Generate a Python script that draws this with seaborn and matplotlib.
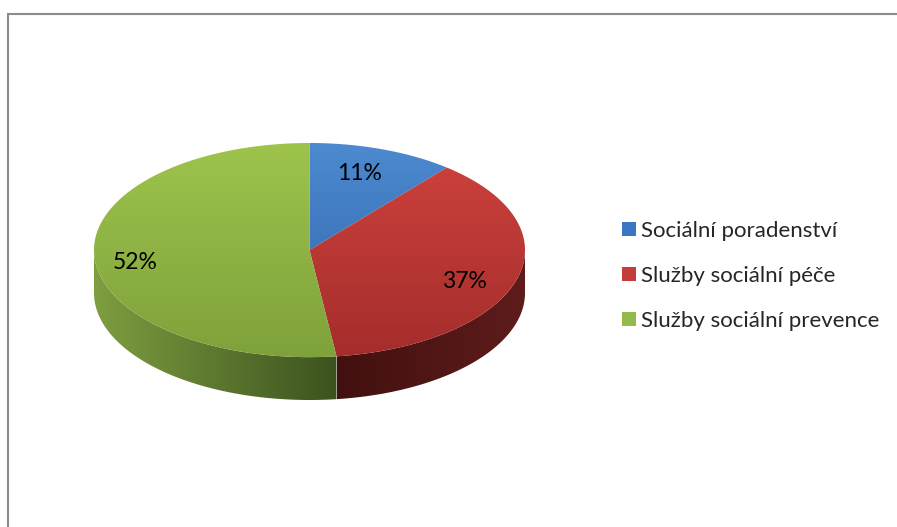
import numpy as np
import matplotlib
matplotlib.use("Agg")
import matplotlib.pyplot as plt
import seaborn as sns
from matplotlib.patches import Polygon, Patch
from matplotlib.lines import Line2D
from matplotlib.colors import LinearSegmentedColormap

# data
categories = ["Sociální poradenství", "Služby sociální péče", "Služby sociální prevence"]
shares = [11, 37, 52]
pct_labels = ["11%", "37%", "52%"]

# styling (top gradient: upper -> lower, side gradient: left -> right)
top_colors = [("#4d8ad0", "#2d63a8"), ("#cf423e", "#a42d2b"), ("#9ec44c", "#7fa13b")]
side_colors = [("#2a5590", "#1e3f6c"), ("#421010", "#5e1c1b"), ("#7e9e40", "#3c521e")]
legend_colors = ["#3a76c2", "#c43d3a", "#93bb4a"]

sns.set_theme(style="white")
plt.rcParams["font.family"] = ["Lato", "DejaVu Sans"]

W, H = 897, 527
fig = plt.figure(figsize=(W / 100, H / 100), dpi=100)
fig.patch.set_facecolor("white")

# chart frame, cut off at right / bottom like the reference
fy = 1 - 14 / H
fx = 8 / W
fig.add_artist(Line2D([fx, 1.05], [fy, fy], color="#8a8a8a", lw=1.5,
                      transform=fig.transFigure))
fig.add_artist(Line2D([fx, fx], [-0.05, fy], color="#8a8a8a", lw=1.5,
                      transform=fig.transFigure))

depth = 0.40
ax = fig.add_axes([94 / W, 127 / H, 431 / W, 257 / H])
ax.axis("off")

fr = np.array(shares, dtype=float) / sum(shares)
edges = np.concatenate([[0], np.cumsum(fr)]) * 2 * np.pi


def gradient_fill(patch, c0, c1, extent, vertical):
    ax.add_patch(patch)
    cmap = LinearSegmentedColormap.from_list("g", [c0, c1])
    g = np.linspace(0, 1, 256)
    arr = g[:, None] if vertical else g[None, :]
    im = ax.imshow(arr, cmap=cmap, extent=extent, aspect="auto",
                   origin="upper" if vertical else "lower", zorder=patch.get_zorder())
    im.set_clip_path(patch)


# side walls (only the front half is visible)
for i in range(len(shares)):
    a0, a1 = max(edges[i], np.pi / 2), min(edges[i + 1], 3 * np.pi / 2)
    if a1 <= a0:
        continue
    t = np.linspace(a0, a1, 200)
    xs, ys = np.sin(t), np.cos(t)
    pts = np.vstack([np.column_stack([xs, ys]),
                     np.column_stack([xs[::-1], ys[::-1] - depth])])
    poly = Polygon(pts, closed=True, facecolor="none", edgecolor="none", zorder=1)
    gradient_fill(poly, side_colors[i][0], side_colors[i][1],
                  (xs.min(), xs.max(), -1 - depth, 0.1), vertical=False)

# top faces
for i in range(len(shares)):
    t = np.linspace(edges[i], edges[i + 1], 300)
    pts = np.vstack([[0, 0], np.column_stack([np.sin(t), np.cos(t)])])
    poly = Polygon(pts, closed=True, facecolor="none", edgecolor="none", zorder=2)
    gradient_fill(poly, top_colors[i][0], top_colors[i][1], (-1, 1, -1, 1), vertical=True)

# percentage labels
mids = (edges[:-1] + edges[1:]) / 2
for m, lab in zip(mids, pct_labels):
    ax.text(0.78 * np.sin(m) - 0.03, 0.82 * np.cos(m) - 0.06, lab, ha="center", va="center",
            fontsize=16.5, color="black", zorder=5)

ax.set_xlim(-1, 1)
ax.set_ylim(-1 - depth, 1)

handles = [Patch(facecolor=c, edgecolor="none") for c in legend_colors]
fig.legend(handles, categories, loc="upper left", bbox_to_anchor=(613 / W, 1 - 212 / H),
           frameon=False, fontsize=16.0, handlelength=0.62, handleheight=0.62,
           handletextpad=0.22, labelspacing=1.12, borderaxespad=0)

fig.savefig("out.png", dpi=100, facecolor="white")
